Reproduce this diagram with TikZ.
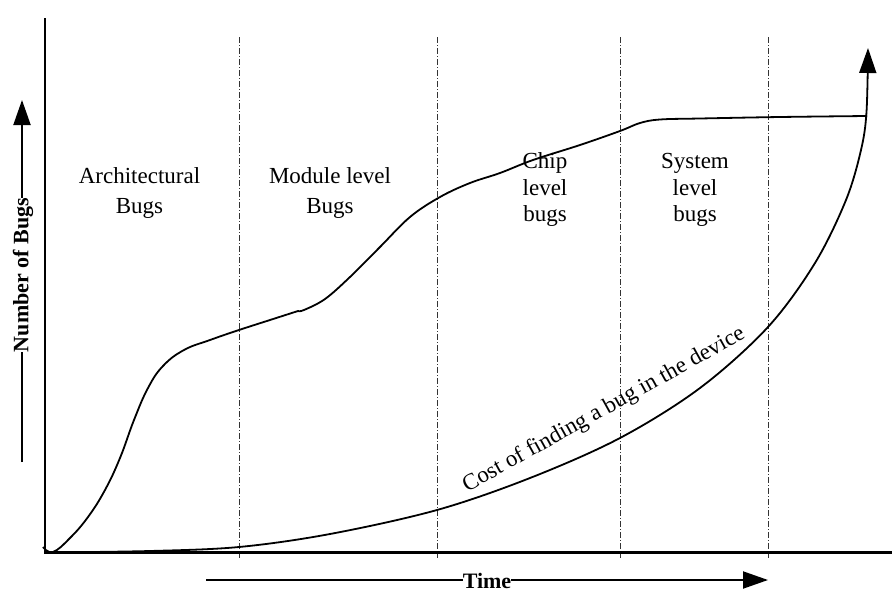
\documentclass[tikz,border=0pt]{standalone}
\usepackage{fontspec}
\setmainfont{Liberation Serif}
\usetikzlibrary{arrows.meta}
\begin{document}
\begin{tikzpicture}[x=1pt,y=-1pt,
  axisline/.style={line width=2.2pt},
  curveline/.style={line width=1.8pt, line join=round},
  phase/.style={line width=0.8pt, black!80, dash pattern=on 6pt off 2pt on 1pt off 2pt},
  lbl/.style={font=\fontsize{23}{27}\selectfont, anchor=base, inner sep=0pt},
  axlbl/.style={font=\fontsize{22}{26}\selectfont\bfseries, inner sep=0pt},
  bigtip/.style={-{Triangle[length=25pt,width=17pt]}}
]
\useasboundingbox (0,0) rectangle (892,592);

% phase separators
\foreach \x/\n in {239/a,437/b,620/c,768/d}{
  \coordinate (t\n) at (\x,37);
  \coordinate (b\n) at (\x,558);
  \draw[phase] (t\n) -- (b\n);
}

% axes
\coordinate (o) at (45,552.5);
\coordinate (ytop) at (45,18);
\coordinate (xend) at (892,552.5);
\draw[axisline] (ytop) -- (o) -- (xend);

% number of bugs curve
\draw[curveline] plot[smooth, tension=0.7] coordinates {
 (43,547) (53,552) (70,538) (88,517) (105,490) (120,458) (134,420) (148,388) (163,366)
 (184,350) (210,340) (239,330) (270,320) (298,311)}
 -- plot[smooth, tension=0.6] coordinates {
 (298,311) (304,310) (325,299) (350,277) (380,247) (410,217) (440,197) (470,183)
 (500,173) (533,160) (580,145) (620,131) (640,123) (660,119.5) (700,118.5) (780,117) (867,116)};

% cost curve
\draw[curveline, bigtip] plot[smooth, tension=0.55] coordinates {
 (45,552.5) (150,551) (239,547) (330,534) (437,510) (530,478) (620,438) (700,388)
 (768,327) (815,263) (846,200) (861,150) (866.5,112) (868,48)};

% region labels
\node[lbl] (arch1) at (139.5,183) {Architectural};
\node[lbl] (arch2) at (139.5,213) {Bugs};
\node[lbl] (mod1) at (330,183) {Module level};
\node[lbl] (mod2) at (330,213) {Bugs};
\node[lbl] (chip1) at (545,168) {Chip};
\node[lbl] (chip2) at (545,195) {level};
\node[lbl] (chip3) at (545,221) {bugs};
\node[lbl] (sys1) at (695,168) {System};
\node[lbl] (sys2) at (695,195) {level};
\node[lbl] (sys3) at (695,221) {bugs};

% cost label
\node[font=\fontsize{23}{27}\selectfont, inner sep=0pt, rotate=29] (cost) at (604,410) {Cost of finding a bug in the device};

% y axis label with arrow
\node[axlbl, rotate=90] (ylab) at (23,275) {Number of Bugs};
\coordinate (ybot) at (22,462);
\coordinate (ytip) at (22,100);
\draw[line width=2pt] (ybot) -- (ybot |- ylab.west);
\draw[line width=2pt, bigtip] (ytip |- ylab.east) -- (ytip);

% time label with arrow
\node[axlbl] (tlab) at (487,580.5) {Time};
\coordinate (tstart) at (206,580);
\coordinate (ttip) at (768,580);
\draw[line width=2pt] (tstart) -- (tstart -| tlab.west);
\draw[line width=2pt, bigtip] (ttip -| tlab.east) -- (ttip);
\end{tikzpicture}
\end{document}
